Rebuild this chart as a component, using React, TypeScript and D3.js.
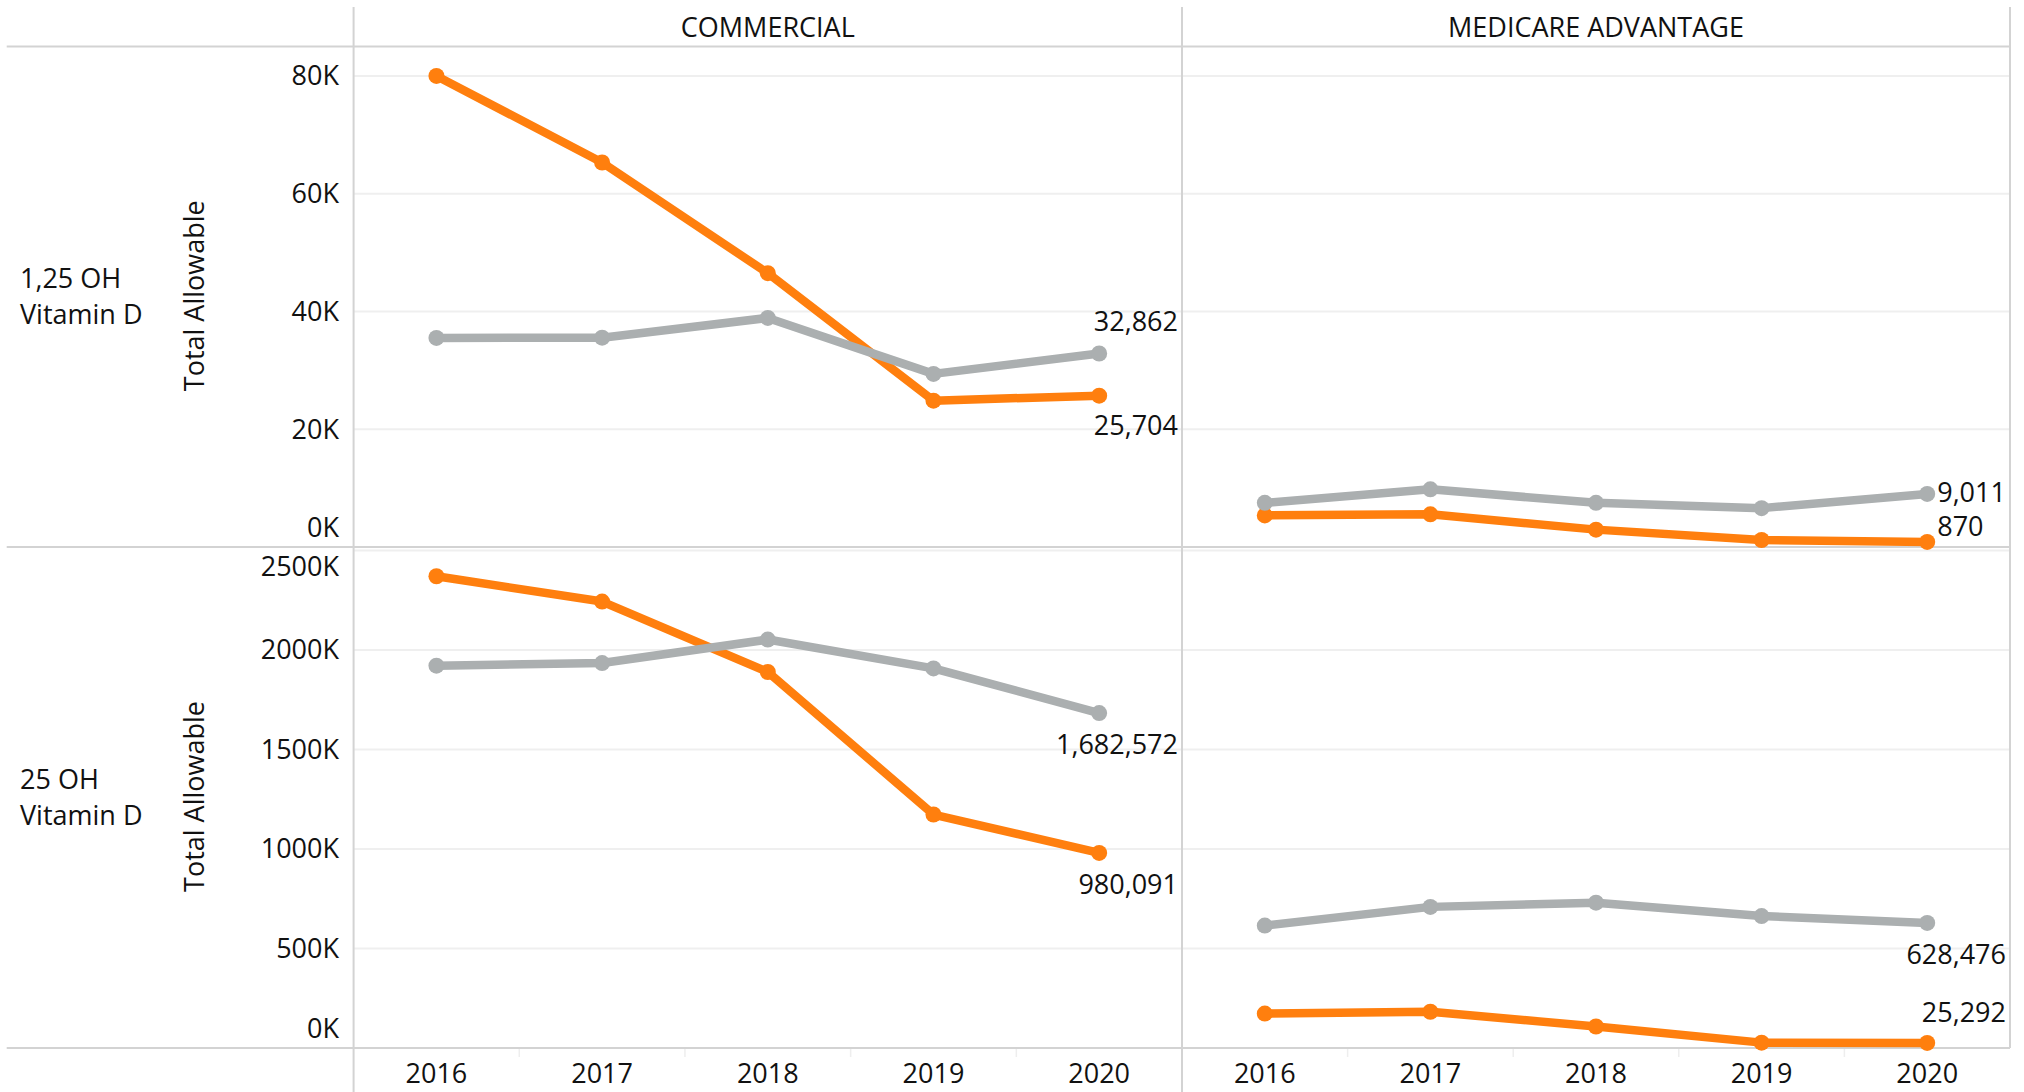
import React from "react";
import * as d3 from "d3";

// ---------- data ----------
const years = ["2016", "2017", "2018", "2019", "2020"];
const columns = ["COMMERCIAL", "MEDICARE ADVANTAGE"];
const rowLabels = [
  ["1,25 OH", "Vitamin D"],
  ["25 OH", "Vitamin D"],
];
const axisTitle = "Total Allowable";

const ticksRow1 = [0, 20000, 40000, 60000, 80000];
const ticksRow2 = [0, 500000, 1000000, 1500000, 2000000, 2500000];
const domainRow1 = [0, 85000];
const domainRow2 = [0, 2517000];

// 1,25 OH Vitamin D
const r1CommercialOrange = [80000, 65300, 46500, 24850, 25704];
const r1CommercialGray = [35500, 35550, 38900, 29400, 32862];
const r1MedicareOrange = [5370, 5550, 2950, 1190, 870];
const r1MedicareGray = [7500, 9800, 7500, 6600, 9011];
// 25 OH Vitamin D
const r2CommercialOrange = [2370000, 2243000, 1889000, 1173000, 980091];
const r2CommercialGray = [1921000, 1934000, 2052000, 1907000, 1682572];
const r2MedicareOrange = [173000, 182000, 108000, 27000, 25292];
const r2MedicareGray = [615000, 709000, 730000, 663000, 628476];

// ---------- layout ----------
const W = 2024;
const H = 1092;
const FONT = "'Open Sans', 'Noto Sans', sans-serif";
const FS = 27;
const ORANGE = "#ff7f0e";
const GRAY = "#abafb0";
const BORDER = "#d3d3d3";
const GRID = "#efefef";
const TEXT = "#111";

const leftX = 6.7;
const colX = [353.6, 1182, 2010];
const topY = 7;
const headerBottom = 46.5;
const rowY = [46.5, 547, 1048];

const fmtNum = d3.format(",");
const fmtTick = (v: number) => `${v / 1000}K`;

type Label = { anchor: "start" | "end"; dy: number };

const panels = [
  {
    row: 0, col: 0,
    orange: r1CommercialOrange, gray: r1CommercialGray,
    orangeLabel: { anchor: "end", dy: 39 } as Label,
    grayLabel: { anchor: "end", dy: -23 } as Label,
  },
  {
    row: 0, col: 1,
    orange: r1MedicareOrange, gray: r1MedicareGray,
    orangeLabel: { anchor: "start", dy: -6 } as Label,
    grayLabel: { anchor: "start", dy: 8 } as Label,
  },
  {
    row: 1, col: 0,
    orange: r2CommercialOrange, gray: r2CommercialGray,
    orangeLabel: { anchor: "end", dy: 41 } as Label,
    grayLabel: { anchor: "end", dy: 41 } as Label,
  },
  {
    row: 1, col: 1,
    orange: r2MedicareOrange, gray: r2MedicareGray,
    orangeLabel: { anchor: "end", dy: -21 } as Label,
    grayLabel: { anchor: "end", dy: 41 } as Label,
  },
];

const rowTicks = [ticksRow1, ticksRow2];
const rowDomains = [domainRow1, domainRow2];

export default function App() {
  const yScales = [0, 1].map((r) =>
    d3.scaleLinear().domain(rowDomains[r]).range([rowY[r + 1], rowY[r]])
  );
  const xScales = [0, 1].map((c) =>
    d3.scaleBand<string>().domain(years).range([colX[c], colX[c + 1]])
  );
  const cx = (c: number, yr: string) =>
    (xScales[c](yr) as number) + xScales[c].bandwidth() / 2;

  const renderSeries = (
    p: (typeof panels)[number],
    values: number[],
    color: string,
    label: Label,
    key: string
  ) => {
    const y = yScales[p.row];
    const line = d3
      .line<number>()
      .x((_, i) => cx(p.col, years[i]))
      .y((v) => y(v));
    const lastI = values.length - 1;
    const lx = cx(p.col, years[lastI]);
    const ly = y(values[lastI]);
    const textX = label.anchor === "end" ? colX[p.col + 1] - 4 : lx + 10;
    return (
      <g key={key}>
        <path
          d={line(values) || ""}
          fill="none"
          stroke={color}
          strokeWidth={8.5}
          strokeLinejoin="round"
          strokeLinecap="round"
        />
        {values.map((v, i) => (
          <circle key={i} cx={cx(p.col, years[i])} cy={y(v)} r={8} fill={color} />
        ))}
        <text
          x={textX}
          y={ly + label.dy}
          textAnchor={label.anchor}
          fontFamily={FONT}
          fontSize={FS}
          fill={TEXT}
        >
          {fmtNum(values[lastI])}
        </text>
      </g>
    );
  };

  return (
    <svg
      width={W}
      height={H}
      style={{ position: "absolute", left: 0, top: 0, background: "#fff" }}
    >
      <rect x={0} y={0} width={W} height={H} fill="#fff" />

      {/* gridlines */}
      {[0, 1].map((r) =>
        [0, 1].map((c) =>
          rowTicks[r]
            .filter((t) => t > 0)
            .map((t) => (
              <line
                key={`g${r}${c}${t}`}
                x1={colX[c]}
                x2={colX[c + 1]}
                y1={yScales[r](t)}
                y2={yScales[r](t)}
                stroke={GRID}
                strokeWidth={2}
              />
            ))
        )
      )}

      {/* x-axis band separators */}
      {[0, 1].map((c) =>
        years.slice(1).map((yr) => (
          <line
            key={`bs${c}${yr}`}
            x1={xScales[c](yr) as number}
            x2={xScales[c](yr) as number}
            y1={rowY[2]}
            y2={rowY[2] + 9}
            stroke="#eeeeee"
            strokeWidth={1.5}
          />
        ))
      )}

      {/* borders */}
      <line x1={leftX} x2={colX[2]} y1={headerBottom} y2={headerBottom} stroke={BORDER} strokeWidth={2} />
      <line x1={leftX} x2={colX[2]} y1={rowY[1]} y2={rowY[1]} stroke={BORDER} strokeWidth={2} />
      <line x1={leftX} x2={colX[2]} y1={rowY[2]} y2={rowY[2]} stroke={BORDER} strokeWidth={2} />
      <line x1={colX[0]} x2={colX[0]} y1={topY} y2={H} stroke={BORDER} strokeWidth={2} />
      <line x1={colX[1]} x2={colX[1]} y1={topY} y2={H} stroke={BORDER} strokeWidth={2} />
      <line x1={colX[2]} x2={colX[2]} y1={topY} y2={rowY[2]} stroke={BORDER} strokeWidth={2} />

      {/* column headers */}
      {columns.map((name, c) => (
        <text
          key={name}
          x={(colX[c] + colX[c + 1]) / 2}
          y={37}
          textAnchor="middle"
          fontFamily={FONT}
          fontSize={FS}
          fill={TEXT}
        >
          {name}
        </text>
      ))}

      {/* row labels, axis titles and ticks */}
      {[0, 1].map((r) => {
        const mid = (rowY[r] + rowY[r + 1]) / 2;
        return (
          <g key={`row${r}`}>
            {rowLabels[r].map((ln, i) => (
              <text
                key={ln}
                x={20}
                y={mid - 9 + i * 36}
                fontFamily={FONT}
                fontSize={FS}
                fill={TEXT}
              >
                {ln}
              </text>
            ))}
            <text
              transform={`translate(204,${mid - 1}) rotate(-90)`}
              textAnchor="middle"
              fontFamily={FONT}
              fontSize={FS}
              fill={TEXT}
            >
              {axisTitle}
            </text>
            {rowTicks[r].map((t) => {
              const gy = yScales[r](t) + 9.5;
              const by = Math.max(rowY[r] + 29, Math.min(rowY[r + 1] - 10, gy));
              return (
                <text
                  key={`t${t}`}
                  x={339}
                  y={by}
                  textAnchor="end"
                  fontFamily={FONT}
                  fontSize={FS}
                  fill={TEXT}
                >
                  {fmtTick(t)}
                </text>
              );
            })}
          </g>
        );
      })}

      {/* year labels */}
      {[0, 1].map((c) =>
        years.map((yr) => (
          <text
            key={`y${c}${yr}`}
            x={cx(c, yr)}
            y={1083}
            textAnchor="middle"
            fontFamily={FONT}
            fontSize={FS}
            fill={TEXT}
          >
            {yr}
          </text>
        ))
      )}

      {/* series */}
      {panels.map((p, i) => (
        <g key={`p${i}`}>
          {renderSeries(p, p.orange, ORANGE, p.orangeLabel, "o")}
          {renderSeries(p, p.gray, GRAY, p.grayLabel, "g")}
        </g>
      ))}
    </svg>
  );
}
